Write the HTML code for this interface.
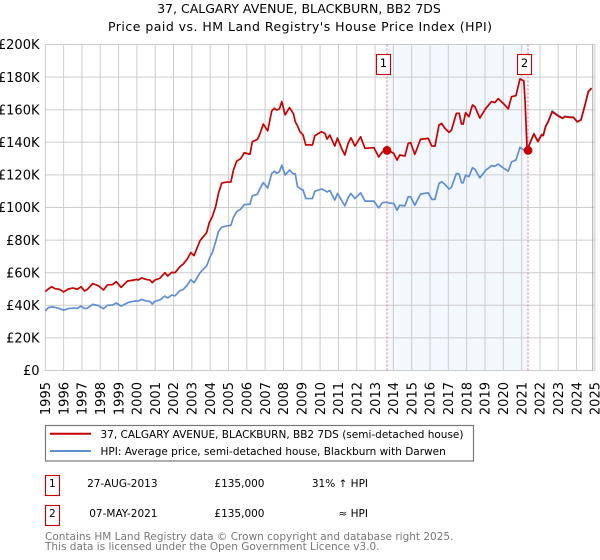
<!DOCTYPE html>
<html lang="en">
<head>
<meta charset="utf-8">
<title>37, CALGARY AVENUE, BLACKBURN, BB2 7DS</title>
<style>
html,body{margin:0;padding:0;background:#fff;width:600px;height:560px;overflow:hidden}
svg{display:block;font-family:"DejaVu Sans","Liberation Sans",sans-serif}
</style>
</head>
<body>
<svg id="chart" width="600" height="560" viewBox="0 0 600 560" xmlns="http://www.w3.org/2000/svg">
  <text x="299" y="13" text-anchor="middle" font-size="12.5" fill="#000">37, CALGARY AVENUE, BLACKBURN, BB2 7DS</text>
  <text x="300" y="31" text-anchor="middle" font-size="12.5" textLength="384" fill="#000">Price paid vs. HM Land Registry's House Price Index (HPI)</text>
  <g id="plot"></g>

  <g>
    <rect x="45.5" y="425.5" width="428" height="35.5" fill="#fff" stroke="#777" stroke-width="1.2"/>
    <line x1="50" x2="91" y1="433.7" y2="433.7" stroke="#c80000" stroke-width="2"/>
    <text x="100.5" y="438" font-size="10.5">37, CALGARY AVENUE, BLACKBURN, BB2 7DS (semi-detached house)</text>
    <line x1="50" x2="91" y1="451" y2="451" stroke="#5f8fd3" stroke-width="2"/>
    <text x="100.5" y="455" font-size="10.5">HPI: Average price, semi-detached house, Blackburn with Darwen</text>
  </g>

  <g font-size="10.5">
    <rect x="45.5" y="475.5" width="14" height="20" fill="#fff" stroke="#c80000" stroke-width="1.1"/>
    <text x="52.3" y="487" text-anchor="middle">1</text>
    <text x="157.5" y="487" text-anchor="end">27-AUG-2013</text>
    <text x="264.5" y="487" text-anchor="end">£135,000</text>
    <text x="368" y="487" text-anchor="end">31% ↑ HPI</text>
  </g>
  <g font-size="10.5">
    <rect x="45.5" y="505.5" width="14" height="20" fill="#fff" stroke="#c80000" stroke-width="1.1"/>
    <text x="52.3" y="517" text-anchor="middle">2</text>
    <text x="157.5" y="517" text-anchor="end">07-MAY-2021</text>
    <text x="264.5" y="517" text-anchor="end">£135,000</text>
    <text x="368" y="517" text-anchor="end">≈ HPI</text>
  </g>

  <text x="45" y="540" font-size="10.5" fill="#777">Contains HM Land Registry data © Crown copyright and database right 2025.</text>
  <text x="45" y="550" font-size="10.5" fill="#777">This data is licensed under the Open Government Licence v3.0.</text>
</svg>
<script>
const yearTicks = [1995,1996,1997,1998,1999,2000,2001,2002,2003,2004,2005,2006,2007,2008,2009,2010,2011,2012,2013,2014,2015,2016,2017,2018,2019,2020,2021,2022,2023,2024,2025];
const priceTicks = [0,20,40,60,80,100,120,140,160,180,200];
const saleYears = [2013.65,2021.35];
const salePrices = [135,135];
const saleLabels = ['1','2'];
const dataEndYear = 2024.88;

const sampleYears = [
1995.00,1995.16,1995.35,1995.53,1995.77,1996.00,1996.26,1996.53,1996.75,1996.95,
1997.14,1997.30,1997.59,1997.90,1998.18,1998.39,1998.67,1998.87,1999.14,1999.49,
1999.73,1999.99,2000.07,2000.25,2000.53,2000.71,2000.84,2000.98,2001.26,2001.53,
2001.68,2001.90,2002.08,2002.35,2002.53,2002.75,2002.94,2003.12,2003.45,2003.81,
2003.94,2004.12,2004.30,2004.45,2004.63,2004.91,2005.13,2005.27,2005.45,2005.67,
2005.86,2006.17,2006.30,2006.58,2006.69,2006.90,2007.14,2007.36,2007.51,2007.63,
2007.78,2007.91,2008.09,2008.33,2008.55,2008.64,2008.77,2008.90,
2009.07,2009.22,2009.40,2009.58,2009.71,2010.07,2010.26,2010.38,2010.53,2010.80,
2010.95,2011.17,2011.35,2011.53,2011.68,2011.90,2012.21,2012.45,2012.94,2013.20,
2013.40,2013.57,2013.80,2014.02,2014.20,2014.35,2014.63,2014.81,2014.94,2015.17,
2015.48,2015.90,2016.10,2016.27,2016.49,2016.63,2016.81,2017.04,2017.17,2017.44,
2017.59,2017.72,2017.81,2017.94,2018.12,2018.32,2018.45,2018.72,2019.05,2019.36,
2019.54,2019.72,2020.03,2020.27,2020.45,2020.69,2020.91,2021.12,2021.19,2021.30,
2021.45,2021.67,2021.89,2022.09,2022.18,2022.31,2022.45,2022.67,2023.00,2023.24,
2023.36,2023.64,2023.82,2024.04,2024.24,2024.46,2024.64,2024.82
];
const hpiValues = [
36.5,38.5,39.1,38.7,38.0,37.0,38.0,38.3,38.1,39.5,
38.0,38.2,40.6,39.8,37.9,40.0,40.2,41.4,39.5,41.6,
42.3,42.8,42.6,43.6,42.6,42.4,40.8,42.4,43.3,45.7,
44.5,46.3,45.8,49.0,49.7,52.4,55.7,53.9,60.0,64.3,
68.2,72.5,79.0,85.2,87.9,88.7,89.1,94.0,97.5,99.0,
101.8,102.0,107.2,108.2,111.0,115.2,112.0,120.9,122.3,121.0,
122.0,126.0,119.9,123.0,120.5,120.8,112.7,111.7,
110.7,105.5,105.5,105.5,110.0,111.3,110.5,109.5,110.5,104.5,
108.6,104.5,101.0,106.0,108.6,105.5,109.0,103.9,103.9,99.8,
102.9,103.2,102.7,102.5,98.4,101.4,101.0,106.6,106.6,101.4,
108.2,109.0,105.0,105.0,114.8,115.8,114.2,111.3,112.5,120.9,
120.5,115.2,115.2,119.9,118.9,124.4,123.4,118.2,123.0,125.6,
125.4,126.6,124.0,122.3,128.0,129.1,136.9,135.2,135.2,135.2,
139.6,145.4,140.8,144.9,144.5,150.0,153.0,159.2,156.5,154.9,
156.0,155.5,155.5,152.7,153.9,163.0,171.2,173.3
];
const priceValues = [
48.4,50.0,51.4,50.2,49.8,48.2,50.0,50.6,49.8,51.4,
48.8,49.8,53.3,52.0,49.4,52.5,52.7,54.5,51.0,54.9,
55.3,55.9,55.5,56.8,55.8,55.5,53.9,55.5,56.6,60.0,
58.0,60.2,60.0,63.7,65.3,68.4,72.3,70.5,79.7,84.6,
90.4,94.5,100.6,108.6,115.0,115.6,115.6,123.0,128.5,130.0,
133.6,132.6,140.4,141.8,144.5,151.2,147.0,159.2,160.9,159.8,
160.5,165.0,156.8,161.3,157.4,152.7,150.0,146.5,
144.5,138.3,138.5,138.3,144.0,146.5,145.5,142.0,144.5,137.7,
142.6,136.3,132.2,139.3,142.8,137.7,143.4,136.3,136.7,131.0,
134.2,135.2,134.6,133.2,129.1,132.2,131.6,139.3,139.8,132.6,
141.8,142.4,137.7,137.7,150.6,151.6,148.6,146.1,147.5,157.8,
157.8,151.2,151.2,158.2,155.7,162.9,161.9,154.9,160.9,165.0,
164.4,166.8,163.5,160.5,168.0,168.6,178.9,177.7,165.0,135.2,
139.3,145.1,140.4,144.5,144.1,149.6,152.6,158.8,156.1,154.7,
155.7,155.3,155.3,152.5,153.7,162.9,171.1,173.2
];

const NS = 'http://www.w3.org/2000/svg';
const plot = document.getElementById('plot');
const X0 = 45.3, XPY = 18.32, Y0 = 370.5, YPK = 1.63;
function xScale(year){ return X0 + (year - yearTicks[0]) * XPY; }
function yScale(k){ return Y0 - k * YPK; }
function make(tag, attrs, parent){
  const el = document.createElementNS(NS, tag);
  for (const k in attrs) el.setAttribute(k, attrs[k]);
  (parent || plot).appendChild(el);
  return el;
}
function linePath(xs, ys){
  return xs.map((v,i)=>(i?'L':'M')+xScale(v).toFixed(2)+' '+yScale(ys[i]).toFixed(2)).join(' ');
}

const shade = make('rect',{x:xScale(saleYears[0]),y:yScale(200),width:xScale(saleYears[1])-xScale(saleYears[0]),height:yScale(0)-yScale(200),fill:'#f3f7fe'});



priceTicks.forEach(function(v){
  const grid = make('line',{x1:xScale(1995),x2:xScale(2025),y1:yScale(v),y2:yScale(v),stroke:'#cccccc','stroke-width':1});
  
  
  const label = make('text',{x:39.5,y:yScale(v)+4.7,'text-anchor':'end','font-size':13,fill:'#000'});
  
  
  label.textContent = '£' + v + (v ? 'K' : '');
});

yearTicks.forEach(function(y){
  const grid = make('line',{x1:xScale(y),x2:xScale(y),y1:yScale(200),y2:yScale(0),stroke:'#cccccc','stroke-width':1});
  
  
  const tx = xScale(y) + 4.7;
  const label = make('text',{x:tx,y:382,'text-anchor':'end','font-size':13,fill:'#000',transform:'rotate(-90 '+tx+' 382)'});
  
  
  label.textContent = y;
});

const endLine = make('line',{x1:xScale(dataEndYear),x2:xScale(dataEndYear),y1:yScale(200),y2:yScale(0),stroke:'#a8a8a8','stroke-width':1});



saleYears.forEach(function(y){
  const dash = make('line',{x1:xScale(y),x2:xScale(y),y1:yScale(200),y2:yScale(0),stroke:'#e8707c','stroke-width':1,'stroke-dasharray':'2 2'});
  
  
});

const hpiLine = make('path',{d:linePath(sampleYears,hpiValues),fill:'none',stroke:'#5f8fd3','stroke-width':1.7,'stroke-linejoin':'round'});



const priceLine = make('path',{d:linePath(sampleYears,priceValues),fill:'none',stroke:'#c80000','stroke-width':1.7,'stroke-linejoin':'round'});



saleYears.forEach(function(y,i){
  const dot = make('circle',{cx:xScale(y),cy:yScale(salePrices[i]),r:4.4,fill:'#c80000'});
  
  
  const box = make('rect',{x:xScale(y)-10.5,y:54.5,width:14,height:20,fill:'#fff',stroke:'#c80000','stroke-width':1.1});
  
  
  const num = make('text',{x:xScale(y)-3.5,y:67,'text-anchor':'middle','font-size':11.5,fill:'#000'});
  
  
  num.textContent = saleLabels[i];
});
</script>
</body>
</html>
